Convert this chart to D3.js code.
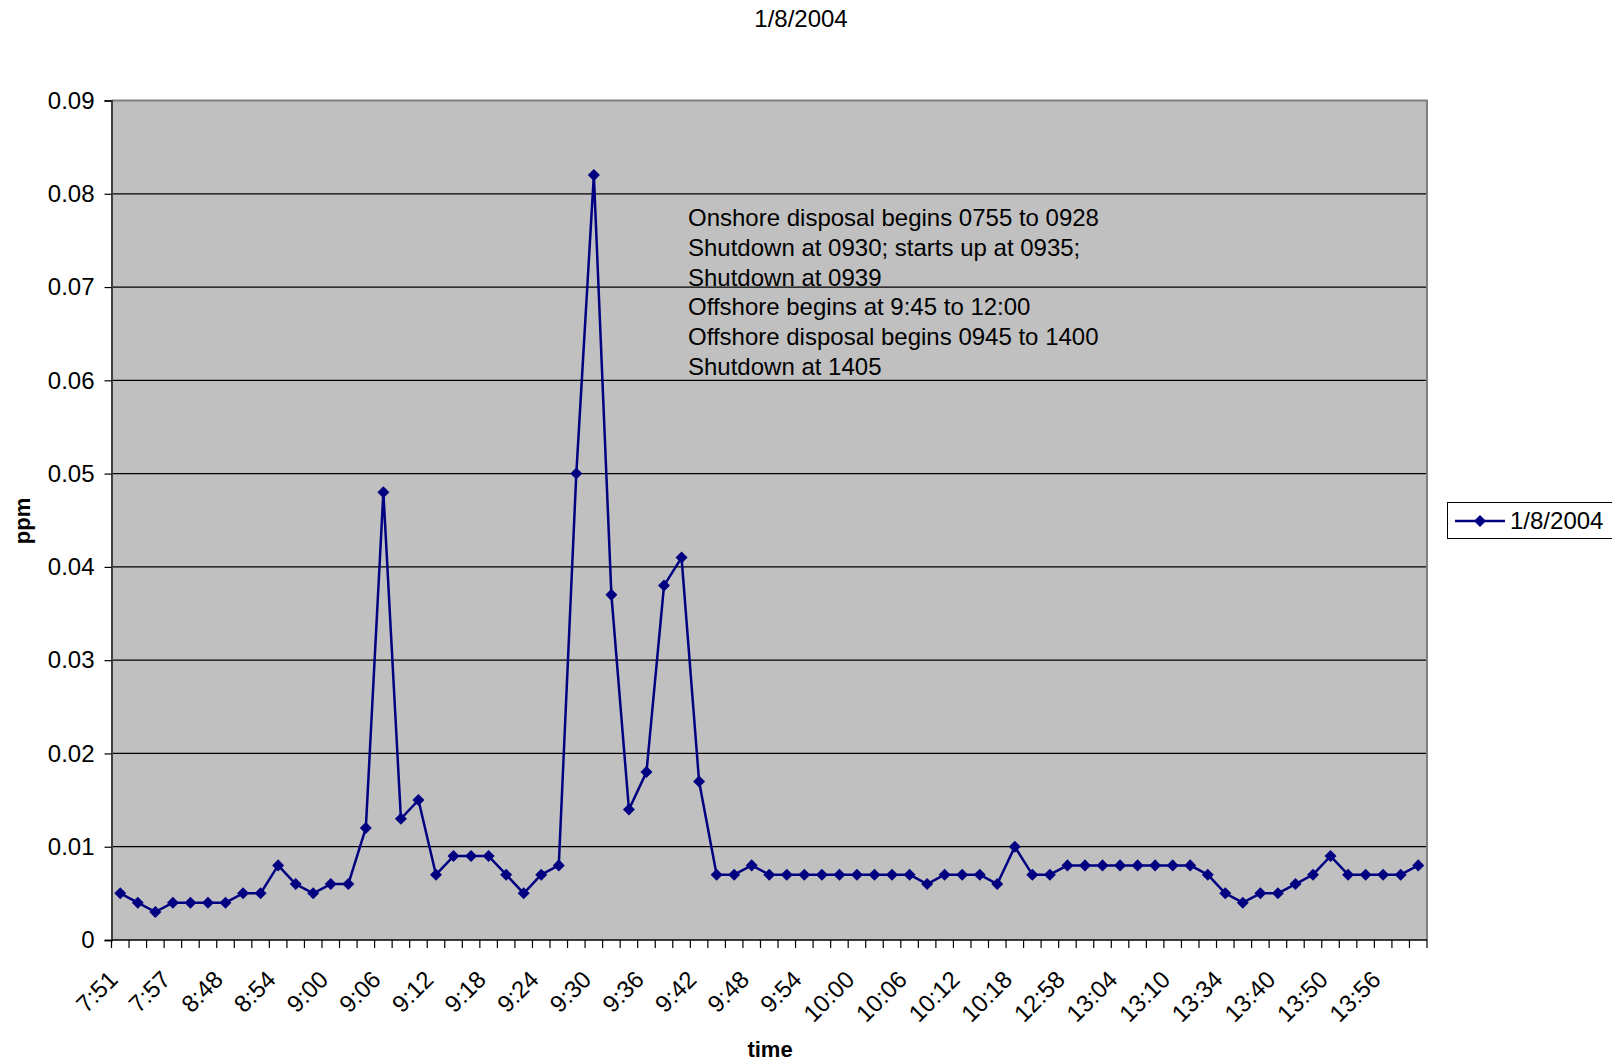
<!DOCTYPE html>
<html>
<head>
<meta charset="utf-8">
<script src="https://cdn.jsdelivr.net/npm/d3@7"></script>
<style>
  html, body { margin: 0; padding: 0; background: #fff; }
  svg { display: block; font-family: "Liberation Sans", Arial, sans-serif; }
</style>
</head>
<body>
<svg id="chart" width="1612" height="1063"></svg>
<script>
// Ozone readings (ppm), one per sample, in time order
const ppmValues = [
  0.005, 0.004, 0.003, 0.004, 0.004, 0.004, 0.004, 0.005, 0.005, 0.008,
  0.006, 0.005, 0.006, 0.006, 0.012, 0.048, 0.013, 0.015, 0.007, 0.009,
  0.009, 0.009, 0.007, 0.005, 0.007, 0.008, 0.050, 0.082, 0.037, 0.014,
  0.018, 0.038, 0.041, 0.017, 0.007, 0.007, 0.008, 0.007, 0.007, 0.007,
  0.007, 0.007, 0.007, 0.007, 0.007, 0.007, 0.006, 0.007, 0.007, 0.007,
  0.006, 0.010, 0.007, 0.007, 0.008, 0.008, 0.008, 0.008, 0.008, 0.008,
  0.008, 0.008, 0.007, 0.005, 0.004, 0.005, 0.005, 0.006, 0.007, 0.009,
  0.007, 0.007, 0.007, 0.007, 0.008
];

// Time labels shown on every third sample
const timeLabels = [
  "7:51", "7:57", "8:48", "8:54", "9:00", "9:06", "9:12", "9:18", "9:24",
  "9:30", "9:36", "9:42", "9:48", "9:54", "10:00", "10:06", "10:12", "10:18",
  "12:58", "13:04", "13:10", "13:34", "13:40", "13:50", "13:56"
];
const labelEvery = 3;

const yTicks = [0, 0.01, 0.02, 0.03, 0.04, 0.05, 0.06, 0.07, 0.08, 0.09];

const notes = [
  "Onshore disposal begins 0755 to 0928",
  "Shutdown at 0930; starts up at 0935;",
  "Shutdown at 0939",
  "Offshore begins at 9:45 to 12:00",
  "Offshore disposal begins 0945 to 1400",
  "Shutdown at 1405"
];

const seriesName = "1/8/2004";
const chartTitle = "1/8/2004";

const lineColor = "#000080";
const fontSize = 24;
const plot = { left: 111.5, top: 100.5, right: 1427, bottom: 940 };

const svg = d3.select("#chart");

const x = d3.scaleBand()
  .domain(d3.range(ppmValues.length))
  .range([plot.left, plot.right]);
const y = d3.scaleLinear()
  .domain([0, 0.09])
  .range([plot.bottom, plot.top]);

// plot area background
svg.append("rect")
  .attr("x", plot.left).attr("y", plot.top)
  .attr("width", plot.right - plot.left)
  .attr("height", plot.bottom - plot.top)
  .attr("fill", "#c0c0c0");

// horizontal gridlines
svg.append("g")
  .selectAll("line")
  .data(yTicks.filter(t => t > 0 && t < 0.09))
  .join("line")
  .attr("x1", plot.left).attr("x2", plot.right)
  .attr("y1", d => y(d)).attr("y2", d => y(d))
  .attr("stroke", "#000").attr("stroke-width", 1.2);

// plot border (top and right)
svg.append("path")
  .attr("d", `M${plot.left},${plot.top}H${plot.right}V${plot.bottom}`)
  .attr("fill", "none").attr("stroke", "#808080").attr("stroke-width", 2);

// y axis
const yAxis = svg.append("g")
  .attr("transform", `translate(${plot.left},0)`)
  .call(d3.axisLeft(y).tickValues(yTicks).tickSize(7).tickPadding(10)
    .tickFormat(d => d === 0 ? "0" : d3.format(".2f")(d)));
yAxis.select(".domain").attr("stroke", "#404040").attr("stroke-width", 2);
yAxis.selectAll(".tick line").attr("stroke", "#000").attr("stroke-width", 1.2);
yAxis.selectAll(".tick text")
  .attr("font-size", fontSize).attr("fill", "#000")
  .attr("font-family", "'Liberation Sans', Arial, sans-serif");

// x axis: ticks on category boundaries
const xg = svg.append("g");
xg.append("line")
  .attr("x1", plot.left).attr("x2", plot.right)
  .attr("y1", plot.bottom).attr("y2", plot.bottom)
  .attr("stroke", "#000").attr("stroke-width", 1.5);
const boundaries = d3.range(ppmValues.length + 1)
  .map(i => i < ppmValues.length ? x(i) : x(i - 1) + x.bandwidth());
xg.selectAll("line.tick")
  .data(boundaries)
  .join("line")
  .attr("class", "tick")
  .attr("x1", d => d).attr("x2", d => d)
  .attr("y1", plot.bottom).attr("y2", plot.bottom + 8)
  .attr("stroke", "#000").attr("stroke-width", 1.2);

const labelled = d3.range(ppmValues.length).filter(i => i % labelEvery === 0);
xg.selectAll("text")
  .data(labelled)
  .join("text")
  .attr("transform", i => `translate(${x(i) + x.bandwidth() / 2 - 7},${plot.bottom + 35}) rotate(-45)`)
  .attr("text-anchor", "end")
  .attr("dy", "0.35em")
  .attr("font-size", fontSize)
  .attr("fill", "#000")
  .text(i => timeLabels[i / labelEvery]);

// data line
const cx = i => x(i) + x.bandwidth() / 2;
svg.append("path")
  .datum(ppmValues)
  .attr("d", d3.line().x((d, i) => cx(i)).y(d => y(d)))
  .attr("fill", "none")
  .attr("stroke", lineColor)
  .attr("stroke-width", 2.5)
  .attr("stroke-linejoin", "round");

// diamond markers
const diamond = d3.symbol().type(d3.symbolDiamond2).size(92);
svg.append("g")
  .selectAll("path")
  .data(ppmValues)
  .join("path")
  .attr("transform", (d, i) => `translate(${cx(i)},${y(d)})`)
  .attr("d", diamond)
  .attr("fill", lineColor);

// annotation block
const note = svg.append("text")
  .attr("x", 688).attr("y", 226)
  .attr("font-size", fontSize).attr("fill", "#000");
note.selectAll("tspan")
  .data(notes)
  .join("tspan")
  .attr("x", 688)
  .attr("dy", (d, i) => i === 0 ? 0 : 29.8)
  .text(d => d);

// title
svg.append("text")
  .attr("x", 801).attr("y", 27)
  .attr("text-anchor", "middle")
  .attr("font-size", fontSize).attr("fill", "#000")
  .text(chartTitle);

// axis titles
svg.append("text")
  .attr("transform", "translate(30,521) rotate(-90)")
  .attr("text-anchor", "middle")
  .attr("font-size", 22).attr("font-weight", "bold")
  .text("ppm");
svg.append("text")
  .attr("x", 770).attr("y", 1057)
  .attr("text-anchor", "middle")
  .attr("font-size", 22).attr("font-weight", "bold")
  .text("time");

// legend
const legend = svg.append("g");
legend.append("rect")
  .attr("x", 1447.5).attr("y", 502.5)
  .attr("width", 180).attr("height", 36)
  .attr("fill", "#fff").attr("stroke", "#000").attr("stroke-width", 1);
legend.append("line")
  .attr("x1", 1455).attr("x2", 1505)
  .attr("y1", 521).attr("y2", 521)
  .attr("stroke", lineColor).attr("stroke-width", 2.5);
legend.append("path")
  .attr("transform", "translate(1480,521)")
  .attr("d", diamond)
  .attr("fill", lineColor);
legend.append("text")
  .attr("x", 1510).attr("y", 529)
  .attr("font-size", fontSize).attr("fill", "#000")
  .text(seriesName);
</script>
</body>
</html>
